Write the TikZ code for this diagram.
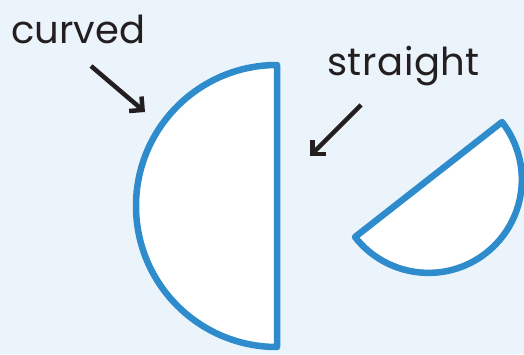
\documentclass[tikz,border=0pt]{standalone}
\usepackage{fontspec}
\setmainfont{Poppins}
\usetikzlibrary{arrows.meta}
\definecolor{bgcol}{HTML}{EBF3FB}
\definecolor{shapeblue}{HTML}{2E8CCD}
\definecolor{inkcol}{HTML}{231F20}
\tikzset{
  shapeline/.style={draw=shapeblue, fill=white, line width=6.5pt, line join=round},
  pointer/.style={draw=inkcol, line width=4.5pt, -{Straight Barb[angle=90:9pt 1, line width=4.5pt]}},
  label/.style={text=inkcol, font=\fontsize{38.5}{40}\selectfont, inner sep=0pt, anchor=base west}
}
\begin{document}
\begin{tikzpicture}[x=1pt,y=-1pt]
\fill[bgcol] (0,0) rectangle (524,354);
\useasboundingbox (0,0) rectangle (524,354);
% left half disc
\draw[shapeline] (277,65) -- (277,347) arc[start angle=90, end angle=270, radius=141] -- cycle;
% right half disc
\draw[shapeline] (502,122) -- (355,237) arc[start angle=142, end angle=-38, radius=93.3] -- cycle;
% labels
\node[label] (curved) at (11,43) {curved};
\node[label] (straight) at (327,75) {\addfontfeature{LetterSpace=1.5}straight};
% arrows
\coordinate (c1) at (91,66);
\coordinate (c2) at (145,112);
\coordinate (s1) at (361,105);
\coordinate (s2) at (310,156);
\draw[pointer] (c1) -- (c2);
\draw[pointer] (s1) -- (s2);
\end{tikzpicture}
\end{document}
